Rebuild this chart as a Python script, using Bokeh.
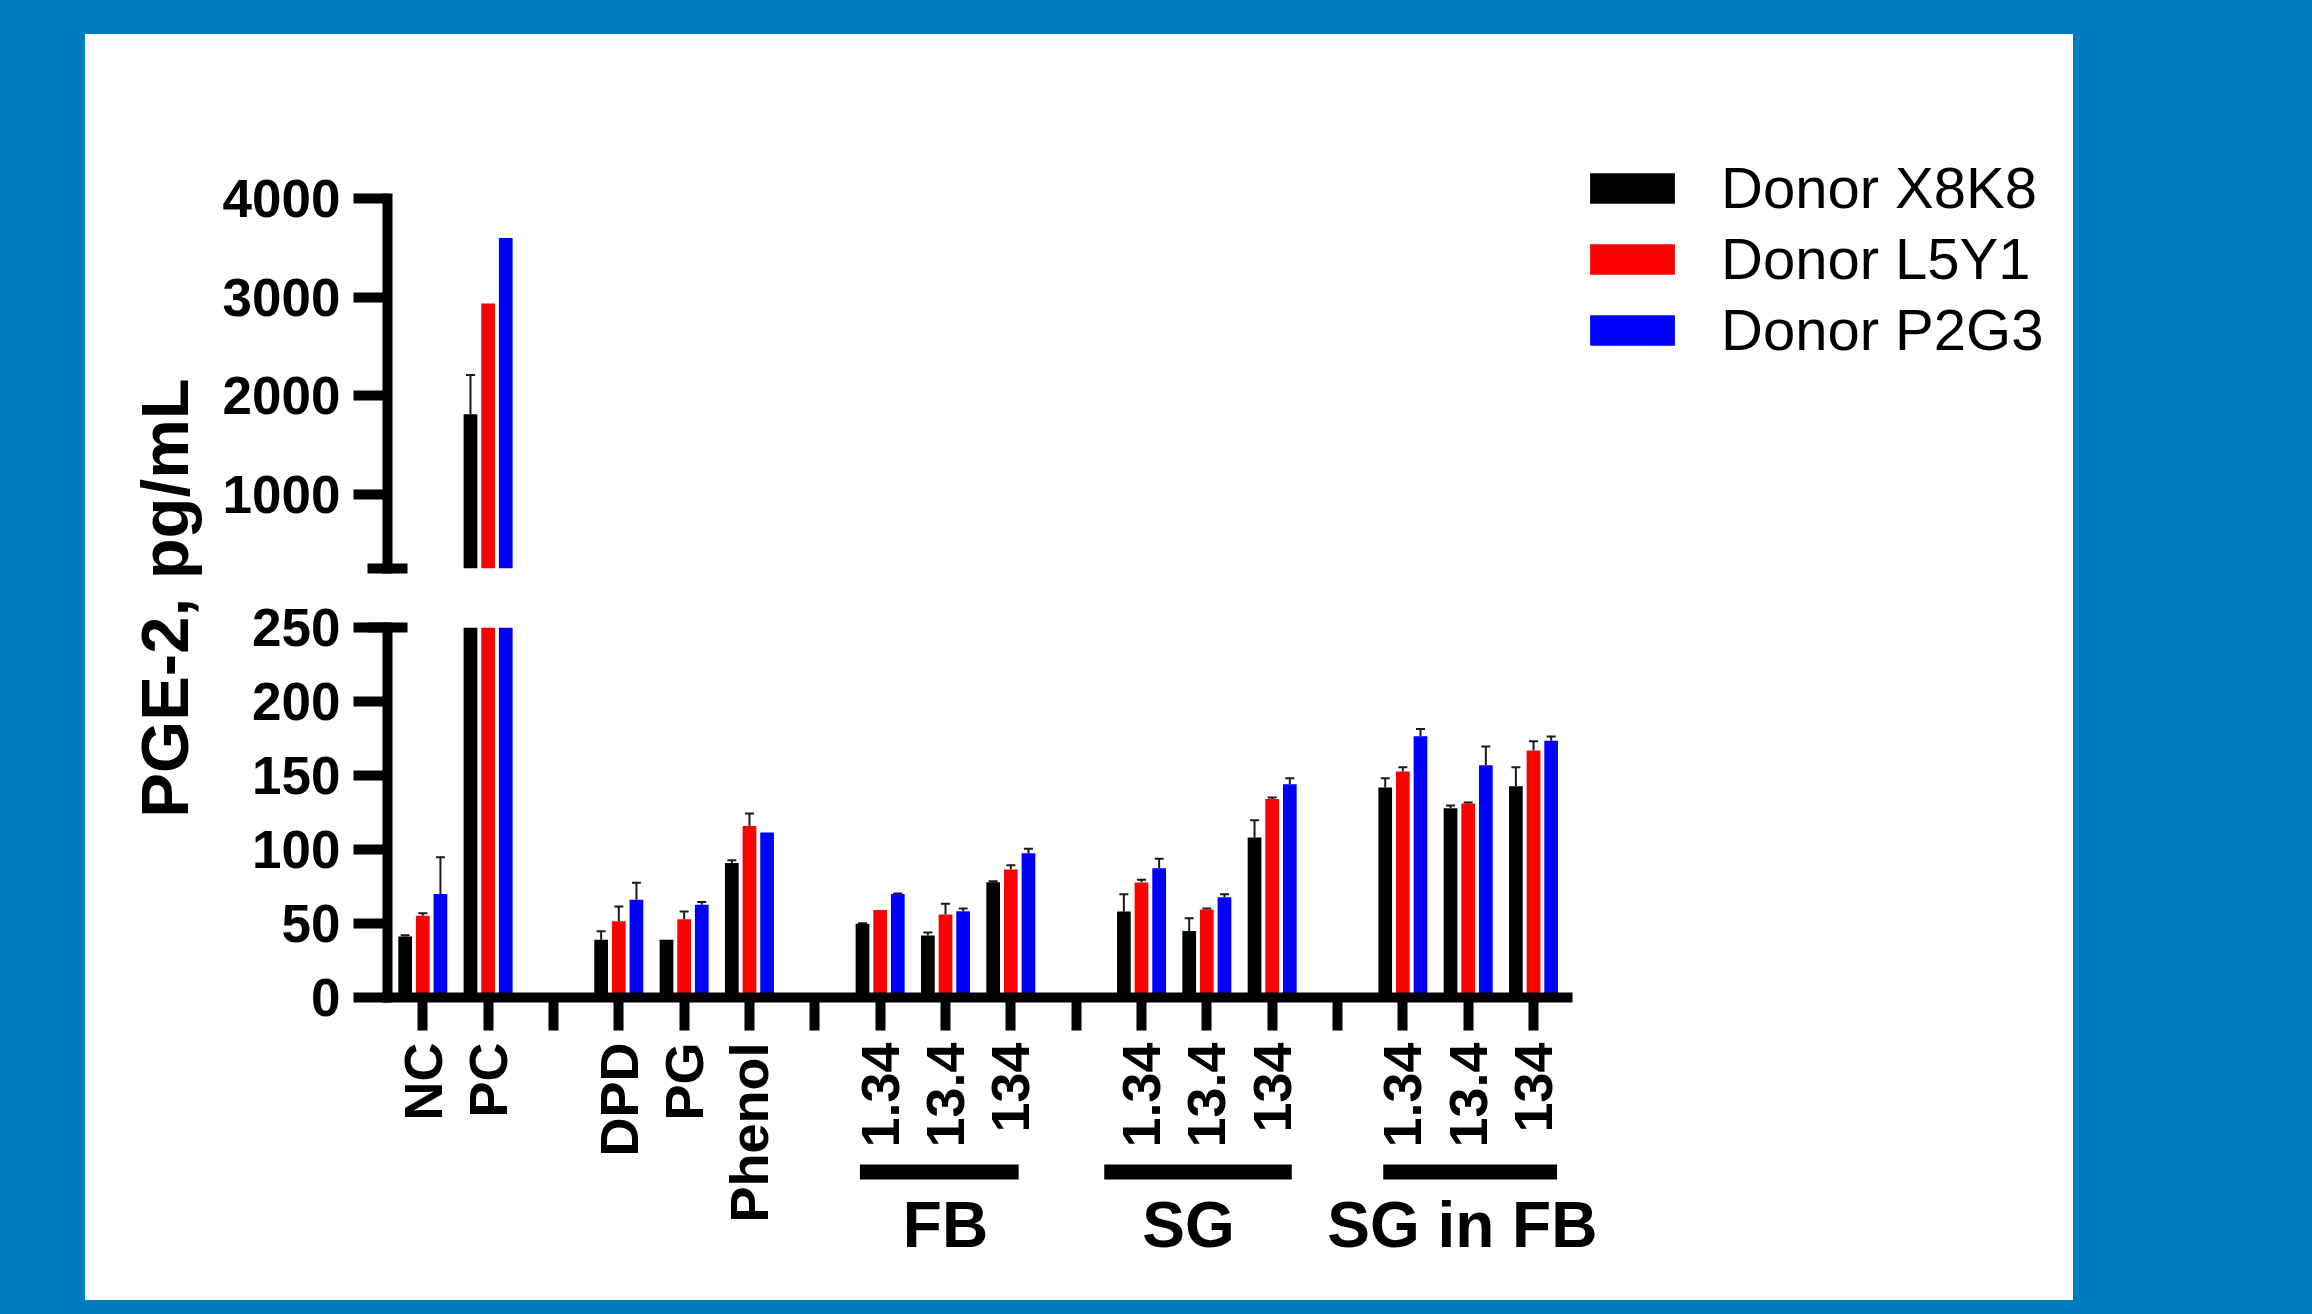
import numpy as np
from bokeh.plotting import figure
from bokeh.models import (Range1d, FixedTicker, ColumnDataSource, Whisker, TeeHead,
                          Legend, LegendItem, Label, Spacer)
from bokeh.layouts import row, column
from bokeh.core.properties import value
from bokeh.embed import file_html
from bokeh.resources import INLINE

# ---------------- data ----------------
tick_labels = ["NC", "PC", None, "DPD", "PG", "Phenol", None,
               "1.34", "13.4", "134", None,
               "1.34", "13.4", "134", None,
               "1.34", "13.4", "134"]
series_names = ["Donor X8K8", "Donor L5Y1", "Donor P2G3"]
donor_x8k8 = [41.2, 1813, 39.0, 39.0, 90.8, 49.8, 41.9, 77.9, 58.1, 45.0, 108.1, 141.9, 127.9, 142.8]
donor_x8k8_err = [0.8, 397, 5.8, 0, 2.0, 0.4, 2.0, 0.7, 11.7, 8.6, 11.7, 6.3, 1.8, 12.8]
donor_l5y1 = [55.2, 2935, 51.6, 52.9, 115.8, 59.2, 56.1, 86.5, 77.7, 59.5, 134.2, 152.7, 131.1, 166.9]
donor_l5y1_err = [1.8, 0, 9.9, 5.2, 8.5, 0, 7.2, 2.9, 1.8, 0.6, 0.9, 2.9, 0.7, 6.3]
donor_p2g3 = [70.0, 3600, 66.0, 62.6, 111.5, 70.0, 58.3, 97.5, 87.4, 67.8, 144.1, 176.6, 157.0, 173.4]
donor_p2g3_err = [24.8, 0, 11.5, 2.0, 0, 0.3, 1.8, 3.0, 6.3, 2.0, 4.1, 4.9, 12.6, 3.0]
group_names = ["FB", "SG", "SG in FB"]
lower_ticks = [0, 50, 100, 150, 200, 250]
upper_ticks = [1000, 2000, 3000, 4000]
y_title = "PGE-2, pg/mL"

# ---------------- style / layout ----------------
FONT = "Liberation Sans"
BLUE_BG = "#007BBB"
colors = ["#000000", "#FF0000", "#0000FF"]
offsets = [-0.27, 0.0, 0.27]
bar_w = 0.21
break_low = 250
upper_max = 4000
group_spans = [(6.69, 9.12), (10.43, 13.30), (14.70, 17.36)]
group_label_x = [8.0, 11.72, 15.91]

slots = [i for i, t in enumerate(tick_labels) if t is not None]
gaps = [i for i, t in enumerate(tick_labels) if t is None]

# pixel layout (page coordinates)
PANEL_L, PANEL_T, PANEL_R, PANEL_B = 85, 34, 2073, 1300
LAB_W = 120
FRAME_L, AXIS_R = 387, 1567
UP_TOP, UP_FRAME_T, UP_FRAME_B, SPLIT = PANEL_T, 38, 568, 597
LO_FRAME_T, LO_FRAME_B, LO_BOT = 627, 997, 1042

x_lo, x_axis_hi = -0.54, 17.52
px_per_x = (AXIS_R - FRAME_L) / (x_axis_hi - x_lo)
x_hi = x_lo + (PANEL_R - FRAME_L) / px_per_x
x_range = Range1d(x_lo, x_hi)

px_per_up = (UP_FRAME_B - 198) / (upper_max - break_low)
up_hi = break_low + (UP_FRAME_B - UP_FRAME_T) / px_per_up

FIG_W = PANEL_R - (PANEL_L + LAB_W)
BORDER_L = FRAME_L - (PANEL_L + LAB_W)


def base_fig(height, y_range, top, bottom, **kw):
    p = figure(width=FIG_W, height=height, x_range=x_range, y_range=y_range,
               output_backend="svg", toolbar_location=None, title=None,
               min_border_left=BORDER_L, min_border_right=0,
               min_border_top=top, min_border_bottom=bottom,
               background_fill_color=None, border_fill_color=None,
               outline_line_color=None, styles={"background-color": "white"}, **kw)
    p.xgrid.visible = False
    p.ygrid.visible = False
    return p


def style_axis(ax, size):
    ax.axis_line_width = 10
    ax.axis_line_color = "black"
    ax.axis_line_cap = "square"
    ax.major_tick_line_width = 10
    ax.minor_tick_line_width = 10
    ax.major_tick_line_color = "black"
    ax.minor_tick_line_color = "black"
    ax.major_tick_in = 0
    ax.major_label_text_font = FONT
    ax.major_label_text_font_style = "bold"
    ax.major_label_text_font_size = size
    ax.major_label_text_color = "black"


upper = base_fig(SPLIT - UP_TOP, Range1d(break_low, up_hi),
                 UP_FRAME_T - UP_TOP, SPLIT - UP_FRAME_B, x_axis_location=None)
lower = base_fig(LO_BOT - SPLIT, Range1d(0, break_low),
                 LO_FRAME_T - SPLIT, LO_BOT - LO_FRAME_B)
bot = base_fig(PANEL_B - LO_BOT, Range1d(PANEL_B - LO_BOT, 0), 0, 0,
               x_axis_location=None, y_axis_location=None)

ya = upper.yaxis[0]
style_axis(ya, "53px")
ya.bounds = (break_low, upper_max)
ya.ticker = FixedTicker(ticks=upper_ticks, minor_ticks=[break_low])
ya.major_tick_out = 34
ya.minor_tick_in = 20
ya.minor_tick_out = 20
ya.major_label_standoff = 13

yb = lower.yaxis[0]
style_axis(yb, "53px")
yb.ticker = FixedTicker(ticks=lower_ticks, minor_ticks=[break_low])
yb.major_tick_out = 34
yb.minor_tick_in = 20
yb.minor_tick_out = 20
yb.major_label_standoff = 13

xb = lower.xaxis[0]
style_axis(xb, "1px")
xb.bounds = (x_lo, x_axis_hi)
xb.ticker = FixedTicker(ticks=slots, minor_ticks=gaps)
xb.major_tick_out = 33
xb.minor_tick_in = 0
xb.minor_tick_out = 33
xb.major_label_standoff = 0
xb.major_label_overrides = {i: "" for i in slots}

series = [(donor_x8k8, donor_x8k8_err), (donor_l5y1, donor_l5y1_err), (donor_p2g3, donor_p2g3_err)]
legend_renderers = []
for k, (vals, errs) in enumerate(series):
    vals = np.array(vals, dtype=float)
    errs = np.array(errs, dtype=float)
    xs = np.array(slots, dtype=float) + offsets[k]
    lower.vbar(x=xs, top=np.minimum(vals, break_low), bottom=0, width=bar_w,
               fill_color=colors[k], line_color=None)
    hi = vals > break_low
    r = upper.vbar(x=xs[hi], top=vals[hi], bottom=break_low, width=bar_w,
                   fill_color=colors[k], line_color=None)
    legend_renderers.append(r)
    for fig, mask in ((lower, (errs > 0) & (vals + errs <= break_low)),
                      (upper, (errs > 0) & hi)):
        if mask.any():
            src = ColumnDataSource(dict(base=xs[mask], lower=vals[mask], upper=vals[mask] + errs[mask]))
            fig.add_layout(Whisker(source=src, base="base", lower="lower", upper="upper",
                                   dimension="height", line_color="#1a1a1a", line_width=2,
                                   upper_head=TeeHead(size=9, line_color="#1a1a1a", line_width=2),
                                   lower_head=None))

legend = Legend(items=[LegendItem(label=n, renderers=[r]) for n, r in zip(series_names, legend_renderers)],
                location=(1192, 205), glyph_width=106, glyph_height=38, label_standoff=36,
                spacing=4, padding=0, margin=0, border_line_color=None,
                background_fill_alpha=0, label_text_font=FONT, label_text_font_size="58px",
                label_text_color="black")
upper.add_layout(legend)

# x tick labels, group brackets and group names under the x axis
bot.text(x=slots, y=[0] * len(slots), text=[tick_labels[i] for i in slots],
         angle=np.pi / 2, text_align="right", text_baseline="middle",
         text_font=value(FONT), text_font_style="bold", text_font_size=value("54px"),
         text_color="black")
bot.quad(left=[g[0] for g in group_spans], right=[g[1] for g in group_spans],
         top=1164 - LO_BOT, bottom=1179 - LO_BOT, fill_color="black", line_color=None)
bot.text(x=group_label_x, y=[1224.5 - LO_BOT] * len(group_names), text=group_names,
         text_align="center", text_baseline="middle",
         text_font=value(FONT), text_font_style="bold", text_font_size=value("64px"),
         text_color="black")

# y-axis title spanning both panels
lab = figure(width=LAB_W, height=PANEL_B - PANEL_T, x_range=Range1d(0, LAB_W),
             y_range=Range1d(0, PANEL_B - PANEL_T),
             output_backend="svg", toolbar_location=None, title=None, min_border=0,
             x_axis_location=None, y_axis_location=None, outline_line_color=None,
             background_fill_color=None, border_fill_color=None,
             styles={"background-color": "white"})
lab.xgrid.visible = False
lab.ygrid.visible = False
lab.add_layout(Label(x=164 - PANEL_L, y=PANEL_B - 597.5, text=y_title, angle=np.pi / 2,
                     text_align="center", text_baseline="middle",
                     text_font=FONT, text_font_style="bold", text_font_size="67px",
                     text_color="black"))

inner = row(lab, column(upper, lower, bot), styles={"background-color": "white"})
layout = column(Spacer(height=PANEL_T), row(Spacer(width=PANEL_L), inner))

html = file_html(layout, INLINE)
html = html.replace("</head>", "<style>html, body { background-color: %s; }</style></head>" % BLUE_BG, 1)
open("out.html", "w").write(html)
